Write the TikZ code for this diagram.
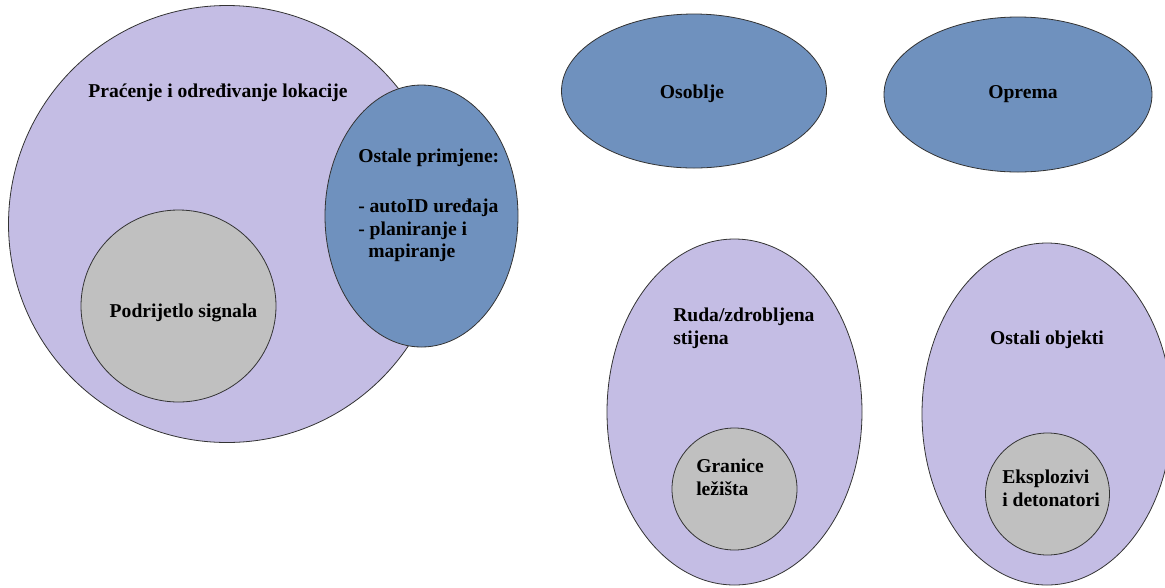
\documentclass[tikz,border=0pt]{standalone}
\usepackage{fontspec}
\setmainfont{Liberation Serif}
\usetikzlibrary{shapes.geometric}
\definecolor{lavanda}{RGB}{196,189,228}
\definecolor{plava}{RGB}{111,145,190}
\definecolor{siva}{RGB}{192,192,192}

\begin{document}
\begin{tikzpicture}[x=0.75pt, y=-0.75pt,
  skup/.style={ellipse, draw=black!80, line width=0.6pt, inner sep=0pt},
  natpis/.style={inner sep=0pt, font=\fontsize{14.7pt}{17pt}\selectfont\bfseries, align=left}]
  \useasboundingbox (0,0) rectangle (1165,587);

  \node (L) [skup, fill=lavanda, minimum width=327.75pt, minimum height=327.75pt] at (227,224) {};
  \node (S) [skup, fill=siva, minimum width=146.25pt, minimum height=144pt] at (178.5,306) {};
  \node (A) [skup, fill=plava, minimum width=144.75pt, minimum height=196.5pt] at (421.5,216) {};

  \node (O) [skup, fill=plava, minimum width=198.75pt, minimum height=115.5pt] at (694,91) {};
  \node (E) [skup, fill=plava, minimum width=201pt, minimum height=116.25pt] at (1018,94.5) {};

  \node (R) [skup, fill=lavanda, minimum width=191.25pt, minimum height=259.5pt] at (734.5,412) {};
  \node (G) [skup, fill=siva, minimum width=93.75pt, minimum height=91.5pt] at (734.5,489) {};
  \node (X) [skup, fill=lavanda, minimum width=187.5pt, minimum height=256.5pt] at (1047,414) {};
  \node (D) [skup, fill=siva, minimum width=93pt, minimum height=91.5pt] at (1047.5,494) {};

  \node (tL) [natpis, anchor=base] at (218,97) {Praćenje i određivanje lokacije};
  \node (tS) [natpis, anchor=base] at (183.5,317.5) {Podrijetlo signala};
  \node (tA) [natpis, anchor=north west] at (358,148.6)
    {Ostale primjene:\\[20.5pt]- autoID uređaja\\- planiranje i\\\hspace*{7.5pt}mapiranje};
  \node (tO) [natpis, anchor=base] at (692,98) {Osoblje};
  \node (tE) [natpis, anchor=base] at (1023,98) {Oprema};
  \node (tR) [natpis, anchor=north west] at (673,307.6) {Ruda/zdrobljena\\stijena};
  \node (tG) [natpis, anchor=north west] at (696,458.6) {Granice\\ležišta};
  \node (tX) [natpis, anchor=base] at (1047,344) {Ostali objekti};
  \node (tD) [natpis, anchor=north west] at (1002,469.6) {Eksplozivi\\i detonatori};
\end{tikzpicture}
\end{document}
